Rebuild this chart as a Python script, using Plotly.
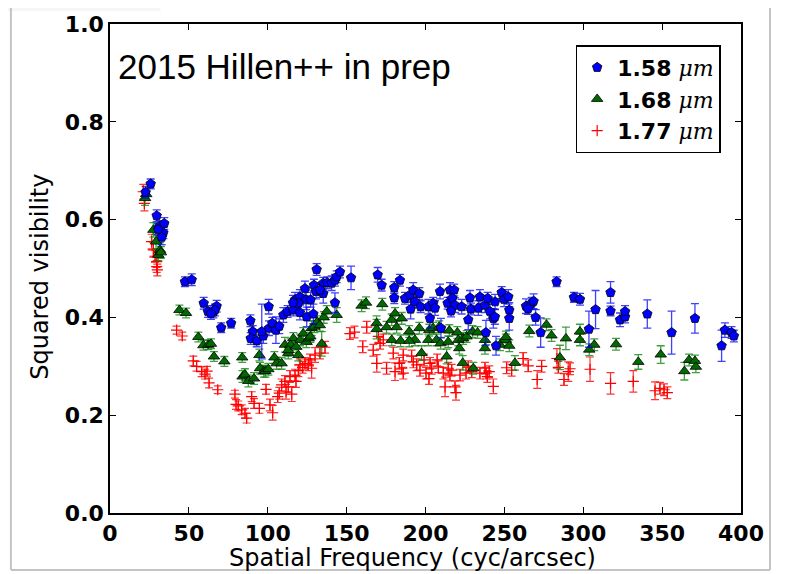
import plotly.graph_objects as go

# ---------------- data ----------------
# 1.58 micron (blue)
b_x = [22.6, 25.8, 29.6, 31.3, 34.4, 33.8, 32.8, 30.5,
       47.5, 51.8, 59.4, 62.1, 65.5, 67.6, 66.5, 64.0, 70.5, 76.8,
       89.0, 90.5, 89.2, 93.0, 97.2, 96.2, 100.8, 102.9, 105.2, 107.3,
       100.6, 109.9, 112.6, 116.2, 120.4, 124.7, 128.9, 117.3, 120.4, 124.3,
       127.2, 123.6, 129.3, 130.6, 135.2, 137.7, 140.5, 142.6, 143.7, 135.2,
       133.1, 142.6, 119.4, 116.0, 131.0, 145.8, 152.8,
       169.7, 172.2, 180.2, 183.8, 180.2, 187.0, 190.2, 192.2, 193.3, 196.1,
       190.6, 196.9, 201.8, 204.9, 206.0, 209.2, 202.8, 209.8, 214.0, 215.5,
       218.2, 217.0, 218.7, 216.2, 222.9, 228.2, 228.8, 227.1, 234.5, 233.5,
       237.7, 239.4, 240.9, 238.3, 243.0, 244.1, 248.3, 244.0, 249.8, 252.5,
       253.1, 253.1, 244.7,
       263.7, 267.3, 268.5, 265.0, 269.8, 273.0, 283.1, 294.1, 297.9, 307.8,
       303.6, 317.3, 317.3, 323.3, 326.5, 326.5, 340.6, 356.0, 370.8,
       387.7, 389.8, 394.0, 395.5]
b_y = [0.656, 0.673, 0.608, 0.586, 0.592, 0.573, 0.564, 0.580,
       0.473, 0.477, 0.429, 0.412, 0.411, 0.423, 0.415, 0.408, 0.379, 0.388,
       0.393, 0.371, 0.357, 0.352, 0.362, 0.371, 0.378, 0.388, 0.374, 0.382,
       0.422, 0.405, 0.412, 0.415, 0.410, 0.401, 0.407, 0.436, 0.442, 0.436,
       0.436, 0.459, 0.466, 0.453, 0.470, 0.471, 0.470, 0.476, 0.483, 0.449,
       0.456, 0.430, 0.429, 0.430, 0.498, 0.493, 0.481,
       0.487, 0.466, 0.461, 0.476, 0.440, 0.439, 0.446, 0.456, 0.432, 0.449,
       0.417, 0.422, 0.422, 0.429, 0.419, 0.453, 0.398, 0.378, 0.429, 0.456,
       0.456, 0.439, 0.425, 0.413, 0.422, 0.440, 0.417, 0.395, 0.442, 0.419,
       0.425, 0.439, 0.412, 0.369, 0.398, 0.432, 0.451, 0.401, 0.437, 0.442,
       0.415, 0.398, 0.342,
       0.423, 0.429, 0.433, 0.418, 0.400, 0.369, 0.473, 0.441, 0.437, 0.416,
       0.376, 0.451, 0.413, 0.395, 0.401, 0.412, 0.407, 0.369, 0.398,
       0.342, 0.374, 0.369, 0.362]
b_e = [0.012, 0.010, 0.012, 0.012, 0.012, 0.012, 0.015, 0.012,
       0.010, 0.012, 0.012, 0.012, 0.012, 0.012, 0.012, 0.012, 0.010, 0.010,
       0.012, 0.012, 0.012, 0.012, 0.015, 0.056, 0.015, 0.012, 0.027, 0.015,
       0.015, 0.015, 0.012, 0.012, 0.015, 0.020, 0.020, 0.015, 0.015, 0.020,
       0.015, 0.015, 0.012, 0.015, 0.012, 0.012, 0.015, 0.012, 0.012, 0.020,
       0.015, 0.020, 0.015, 0.015, 0.012, 0.012, 0.024,
       0.015, 0.012, 0.012, 0.012, 0.012, 0.012, 0.015, 0.015, 0.012, 0.012,
       0.020, 0.012, 0.015, 0.012, 0.015, 0.015, 0.020, 0.020, 0.012, 0.015,
       0.012, 0.015, 0.015, 0.012, 0.015, 0.015, 0.012, 0.020, 0.015, 0.015,
       0.015, 0.012, 0.015, 0.025, 0.020, 0.015, 0.012, 0.015, 0.015, 0.015,
       0.015, 0.024, 0.019,
       0.015, 0.012, 0.015, 0.012, 0.016, 0.030, 0.010, 0.010, 0.012, 0.039,
       0.037, 0.022, 0.010, 0.014, 0.012, 0.012, 0.029, 0.044, 0.030,
       0.032, 0.015, 0.012, 0.012]

# 1.68 micron (green)
g_x = [22.2, 23.0, 27.5, 29.2, 31.7, 30.6, 32.3,
       44.0, 48.2, 56.0, 59.2, 62.3, 64.0, 65.9, 72.5, 83.8, 84.0,
       85.5, 87.7, 91.3, 94.7, 95.1, 97.5, 98.5, 100.4, 104.2, 105.6,
       108.8, 110.9, 113.0, 116.2, 114.5, 113.0, 118.0, 119.4, 120.5, 122.5,
       124.5, 126.0, 127.0, 127.8, 129.5, 131.4, 133.0, 134.2, 135.5, 137.4,
       143.7, 159.5, 162.3, 169.0, 169.0,
       172.6, 175.3, 178.6, 180.7, 184.9, 181.7, 178.6, 184.2, 189.7, 193.3,
       196.1, 197.5, 189.7, 201.8, 202.4, 204.9, 207.0, 208.7, 209.6, 214.4,
       213.4, 215.1, 220.2, 220.8, 223.9, 221.4, 223.6, 226.1, 229.8, 233.0,
       230.3, 237.7, 237.7, 247.2, 251.0, 253.1, 256.7, 251.0, 265.8, 276.7,
       279.9, 285.2, 289.0, 297.9, 297.9, 303.8, 307.0, 320.8, 334.9, 349.1,
       364.1, 367.1, 370.8, 371.4]
g_y = [0.644, 0.652, 0.579, 0.555, 0.538, 0.528, 0.533,
       0.415, 0.409, 0.360, 0.343, 0.344, 0.346, 0.320, 0.310, 0.318, 0.279,
       0.283, 0.270, 0.275, 0.323, 0.296, 0.290, 0.290, 0.294, 0.318, 0.306,
       0.306, 0.344, 0.327, 0.357, 0.344, 0.333, 0.340, 0.323, 0.354, 0.367,
       0.350, 0.357, 0.361, 0.378, 0.381, 0.391, 0.384, 0.346, 0.400, 0.412,
       0.405, 0.424, 0.430, 0.388, 0.376,
       0.427, 0.380, 0.395, 0.408, 0.398, 0.380, 0.354, 0.352, 0.371, 0.354,
       0.378, 0.327, 0.352, 0.354, 0.374, 0.378, 0.354, 0.381, 0.347, 0.350,
       0.320, 0.373, 0.369, 0.354, 0.357, 0.337, 0.307, 0.361, 0.371, 0.369,
       0.296, 0.354, 0.337, 0.344, 0.354, 0.342, 0.307, 0.360, 0.372, 0.385,
       0.363, 0.318, 0.357, 0.371, 0.354, 0.334, 0.344, 0.345, 0.309, 0.324,
       0.290, 0.313, 0.311, 0.299]
g_e = [0.015, 0.012, 0.015, 0.015, 0.015, 0.012, 0.012,
       0.010, 0.010, 0.010, 0.010, 0.010, 0.010, 0.010, 0.010, 0.010, 0.012,
       0.012, 0.012, 0.012, 0.012, 0.012, 0.012, 0.012, 0.012, 0.012, 0.012,
       0.012, 0.015, 0.012, 0.012, 0.012, 0.012, 0.012, 0.012, 0.012, 0.012,
       0.012, 0.012, 0.012, 0.015, 0.012, 0.012, 0.012, 0.025, 0.012, 0.012,
       0.015, 0.012, 0.012, 0.015, 0.020,
       0.012, 0.012, 0.012, 0.012, 0.012, 0.012, 0.012, 0.012, 0.012, 0.012,
       0.012, 0.015, 0.012, 0.012, 0.012, 0.012, 0.012, 0.012, 0.012, 0.012,
       0.015, 0.012, 0.012, 0.012, 0.012, 0.012, 0.015, 0.012, 0.012, 0.012,
       0.012, 0.012, 0.012, 0.012, 0.012, 0.012, 0.015, 0.012, 0.012, 0.012,
       0.012, 0.025, 0.023, 0.015, 0.012, 0.012, 0.012, 0.012, 0.015, 0.018,
       0.018, 0.012, 0.012, 0.012]

# 1.77 micron (red)
r_x = [21.1, 21.8, 26.4, 27.5, 28.6, 29.6, 29.6, 30.0,
       42.2, 45.8, 52.8, 54.9, 58.1, 60.2, 61.5, 62.8, 68.3, 79.2,
       79.9, 81.3, 83.5, 85.6, 86.6, 89.8, 91.3, 94.7, 98.9, 101.4,
       103.1, 106.3, 107.3, 108.8, 110.9, 111.6, 113.0, 114.1, 115.2, 117.9,
       117.3, 119.4, 120.4, 122.1, 123.6, 125.7, 126.8, 127.8, 130.0, 133.1,
       136.3,
       152.1, 155.0, 160.2, 162.7, 166.9, 170.1, 171.2, 173.3, 169.1, 175.3,
       179.6, 180.7, 183.4, 184.9, 185.9, 185.9, 191.2, 192.3, 194.4, 196.5,
       199.1, 200.3, 202.9, 203.9, 202.2, 207.4, 208.1, 211.3, 212.4, 214.4,
       216.6, 215.5, 218.7, 219.3, 221.9, 225.7, 227.1, 229.3, 234.5, 237.7,
       238.4, 239.2, 240.4, 243.0, 251.4, 254.6, 261.9, 265.1, 270.8, 273.6,
       283.3, 284.2, 287.8, 290.5, 291.6, 304.3, 317.3, 331.7, 345.5, 348.6,
       351.2, 353.3]
r_y = [0.657, 0.633, 0.555, 0.538, 0.525, 0.514, 0.504, 0.497,
       0.374, 0.362, 0.311, 0.300, 0.289, 0.284, 0.290, 0.266, 0.252, 0.243,
       0.222, 0.219, 0.211, 0.204, 0.194, 0.238, 0.224, 0.214, 0.253, 0.221,
       0.205, 0.238, 0.245, 0.262, 0.269, 0.248, 0.258, 0.279, 0.243, 0.269,
       0.282, 0.291, 0.303, 0.298, 0.306, 0.303, 0.313, 0.296, 0.323, 0.327,
       0.339,
       0.367, 0.370, 0.340, 0.380, 0.333, 0.361, 0.347, 0.354, 0.306, 0.296,
       0.327, 0.289, 0.306, 0.296, 0.323, 0.286, 0.321, 0.309, 0.303, 0.292,
       0.313, 0.286, 0.306, 0.296, 0.275, 0.313, 0.299, 0.286, 0.258, 0.296,
       0.292, 0.282, 0.258, 0.246, 0.282, 0.286, 0.299, 0.289, 0.286, 0.296,
       0.286, 0.279, 0.289, 0.259, 0.297, 0.292, 0.316, 0.301, 0.273, 0.300,
       0.316, 0.298, 0.273, 0.289, 0.295, 0.294, 0.265, 0.269, 0.250, 0.255,
       0.252, 0.246]
r_e = [0.015, 0.015, 0.015, 0.015, 0.012, 0.012, 0.012, 0.012,
       0.008, 0.008, 0.010, 0.010, 0.010, 0.010, 0.010, 0.010, 0.008, 0.008,
       0.010, 0.010, 0.010, 0.010, 0.010, 0.010, 0.010, 0.010, 0.010, 0.012,
       0.015, 0.012, 0.012, 0.012, 0.012, 0.015, 0.012, 0.012, 0.015, 0.012,
       0.012, 0.012, 0.012, 0.012, 0.012, 0.012, 0.012, 0.020, 0.015, 0.012,
       0.012,
       0.012, 0.012, 0.012, 0.012, 0.012, 0.012, 0.012, 0.012, 0.018, 0.012,
       0.012, 0.018, 0.012, 0.012, 0.012, 0.012, 0.012, 0.012, 0.012, 0.012,
       0.012, 0.012, 0.012, 0.012, 0.012, 0.012, 0.012, 0.012, 0.020, 0.012,
       0.012, 0.012, 0.012, 0.015, 0.012, 0.012, 0.012, 0.012, 0.012, 0.012,
       0.012, 0.012, 0.012, 0.015, 0.012, 0.012, 0.012, 0.012, 0.018, 0.012,
       0.020, 0.012, 0.012, 0.020, 0.012, 0.025, 0.022, 0.022, 0.018, 0.012,
       0.012, 0.012]

series_names = ["1.58", "1.68", "1.77"]
x_ticks = [0, 50, 100, 150, 200, 250, 300, 350, 400]
y_ticks = [0.0, 0.2, 0.4, 0.6, 0.8, 1.0]
x_title = "Spatial Frequency (cyc/arcsec)"
y_title = "Squared visibility"
note_text = "2015 Hillen++ in prep"

# ---------------- figure ----------------
def legend_label(num):
    return ("<b>" + num + "</b> <span style='font-family:\"DejaVu Serif\";font-style:italic;font-weight:normal'>"
            "\u03bcm</span>")

fig = go.Figure()

fig.add_trace(go.Scatter(
    x=r_x, y=r_y, mode="markers", name=legend_label(series_names[2]),
    legendrank=3,
    marker=dict(symbol="cross-thin-open", size=8, color="#ff0000",
                line=dict(color="rgba(255,0,0,0.85)", width=1.2)),
    error_y=dict(type="data", array=r_e, color="rgba(255,0,0,0.8)",
                 thickness=1.2, width=4),
))
fig.add_trace(go.Scatter(
    x=g_x, y=g_y, mode="markers", name=legend_label(series_names[1]),
    legendrank=2,
    marker=dict(symbol="triangle-up", size=10, color="#006a00",
                line=dict(color="black", width=0.8)),
    error_y=dict(type="data", array=g_e, color="rgba(0,128,0,0.75)",
                 thickness=1.3, width=4),
))
fig.add_trace(go.Scatter(
    x=b_x, y=b_y, mode="markers", name=legend_label(series_names[0]),
    legendrank=1,
    marker=dict(symbol="pentagon", size=10, color="#0000ff",
                line=dict(color="black", width=0.8)),
    error_y=dict(type="data", array=b_e, color="rgba(0,0,255,0.75)",
                 thickness=1.3, width=4),
))

axis_common = dict(
    showline=True, linecolor="black", linewidth=1.5, mirror="ticks",
    ticks="inside", ticklen=6, tickwidth=1, tickcolor="black",
    showgrid=False, zeroline=False, automargin=False,
    tickfont=dict(family="DejaVu Sans", size=22, color="black", weight="bold"),
)

fig.update_layout(
    width=787, height=574,
    # the page adds an 8px body margin, so the plot area is shifted by -8px here
    margin=dict(l=102, r=54, t=16, b=69),
    paper_bgcolor="white", plot_bgcolor="white",
    showlegend=True,
    legend=dict(
        x=0.738, y=0.957, xanchor="left", yanchor="top",
        bordercolor="black", borderwidth=1.5, bgcolor="white",
        font=dict(family="DejaVu Sans", size=22, color="black"),
        itemwidth=30, tracegroupgap=0,
    ),
    xaxis=dict(range=[0, 400], tickvals=x_ticks,
               ticktext=[str(v) for v in x_ticks], **axis_common),
    yaxis=dict(range=[0, 1.0], tickvals=y_ticks,
               ticktext=["%.1f" % v for v in y_ticks], **axis_common),
    annotations=[
        dict(text=note_text, xref="paper", yref="paper",
             x=0.010, y=0.914, xanchor="left", yanchor="middle", showarrow=False,
             font=dict(family="Liberation Sans", size=35, color="black")),
        dict(text=x_title, xref="paper", yref="paper",
             x=0.479, y=-0.092, xanchor="center", yanchor="middle", showarrow=False,
             font=dict(family="DejaVu Sans", size=24, color="black")),
        dict(text=y_title, xref="paper", yref="paper", textangle=-90,
             x=-0.111, y=0.483, xanchor="center", yanchor="middle", showarrow=False,
             font=dict(family="DejaVu Sans", size=24, color="black")),
    ],
    shapes=[
        # slide frame lines (grey)
        dict(type="line", xref="paper", yref="paper", x0=-0.157, x1=-0.157,
             y0=1.07, y1=-0.1166, line=dict(color="#c4c4c4", width=2), layer="below"),
        dict(type="line", xref="paper", yref="paper", x0=-0.157, x1=1.046,
             y0=-0.1166, y1=-0.1166, line=dict(color="#c4c4c4", width=2), layer="below"),
        dict(type="line", xref="paper", yref="paper", x0=1.046, x1=1.046,
             y0=1.07, y1=-0.1166, line=dict(color="#c4c4c4", width=2), layer="below"),
        # top-left shadow
        dict(type="rect", xref="paper", yref="paper", x0=-0.175, x1=0.08,
             y0=1.0491, y1=1.0420, line=dict(width=0), fillcolor="rgba(120,120,120,0.45)",
             layer="below"),
        dict(type="rect", xref="paper", yref="paper", x0=-0.175, x1=0.08,
             y0=1.0420, y1=1.0340, line=dict(width=0), fillcolor="rgba(150,150,150,0.25)",
             layer="below"),
        dict(type="rect", xref="paper", yref="paper", x0=-0.175, x1=0.08,
             y0=1.0340, y1=1.0260, line=dict(width=0), fillcolor="rgba(180,180,180,0.12)",
             layer="below"),
    ],
)

fig.write_html("out.html")
